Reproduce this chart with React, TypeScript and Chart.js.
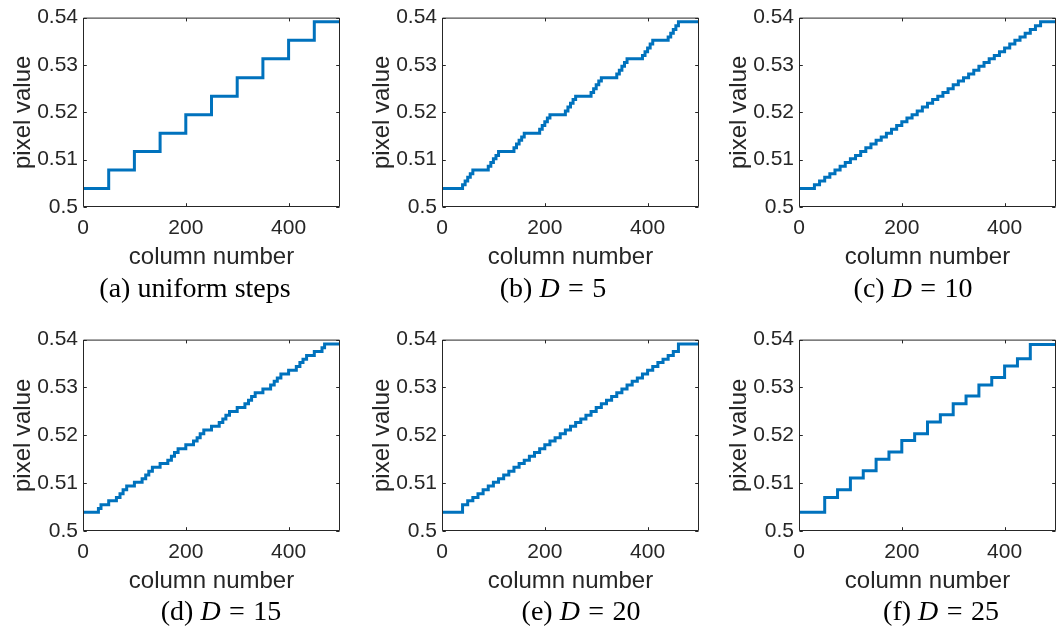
import React, { useEffect, useRef } from "react";
import { Chart, registerables } from "chart.js";

Chart.register(...registerables);

// ---------- axes ----------
const X_MIN = 0;
const X_MAX = 500;
const Y_MIN = 0.5;
const Y_MAX = 0.54;
const X_TICKS = [0, 200, 400];
const X_TICK_LABELS = ["0", "200", "400"];
const Y_TICKS = [0.5, 0.51, 0.52, 0.53, 0.54];
const Y_TICK_LABELS = ["0.5", "0.51", "0.52", "0.53", "0.54"];
const X_TITLE = "column number";
const Y_TITLE = "pixel value";

// ---------- data ----------
// (a) uniform steps: column where each level starts, and the level
const A_COLS = [0, 50, 100, 150, 200, 250, 300, 350, 400, 450, 500];
const A_VALS = [0.5039, 0.5078, 0.5117, 0.5156, 0.5195, 0.5234, 0.5273, 0.5313, 0.5352, 0.5391, 0.5391];

// fine sub-levels used by the dithered curves (b)–(e)
const FINE_LEVELS = [
  0.5039, 0.5047, 0.5055, 0.5063, 0.507, 0.5078, 0.5086, 0.5094, 0.5102, 0.5109,
  0.5117, 0.5125, 0.5133, 0.5141, 0.5148, 0.5156, 0.5164, 0.5172, 0.518, 0.5188,
  0.5195, 0.5203, 0.5211, 0.5219, 0.5227, 0.5234, 0.5242, 0.525, 0.5258, 0.5266,
  0.5273, 0.5281, 0.5289, 0.5297, 0.5305, 0.5313, 0.532, 0.5328, 0.5336, 0.5344,
  0.5352, 0.5359, 0.5367, 0.5375, 0.5383, 0.5391,
];

// columns where the curve jumps to the next fine level
const B_JUMPS = [
  40, 45, 50, 55, 60, 90, 95, 100, 105, 110, 140, 145, 150, 155, 160,
  190, 195, 200, 205, 210, 240, 245, 250, 255, 260, 290, 295, 300, 305, 310,
  340, 345, 350, 355, 360, 390, 395, 400, 405, 410, 440, 445, 450, 455, 460,
];
const C_JUMPS = [
  30, 40, 50, 60, 70, 80, 90, 100, 110, 120, 130, 140, 150, 160, 170,
  180, 190, 200, 210, 220, 230, 240, 250, 260, 270, 280, 290, 300, 310, 320,
  330, 340, 350, 360, 370, 380, 390, 400, 410, 420, 430, 440, 450, 460, 470,
];
const D_JUMPS = [
  30, 35, 50, 65, 72, 78, 85, 100, 115, 122, 128, 135, 150, 165, 172,
  178, 185, 200, 215, 222, 228, 235, 250, 265, 272, 278, 285, 300, 315, 322,
  328, 335, 350, 365, 372, 378, 385, 400, 415, 422, 428, 435, 450, 465, 470,
];
const E_JUMPS = [
  40, 40, 50, 60, 70, 80, 90, 100, 110, 120, 130, 140, 150, 160, 170,
  180, 190, 200, 210, 220, 230, 240, 250, 260, 270, 280, 290, 300, 310, 320,
  330, 340, 350, 360, 370, 380, 390, 400, 410, 420, 430, 440, 450, 460, 460,
];

// (f) D = 25
const F_COLS = [0, 50, 75, 100, 125, 150, 175, 200, 225, 250, 275, 300, 325, 350, 375, 400, 425, 450, 500];
const F_VALS = [
  0.5039, 0.507, 0.5086, 0.5111, 0.5126, 0.515, 0.5165, 0.5189, 0.5203, 0.5228,
  0.5243, 0.5266, 0.5282, 0.5305, 0.5321, 0.5345, 0.536, 0.539, 0.539,
];

type Pt = { x: number; y: number };

function fromCols(cols: number[], vals: number[]): Pt[] {
  return cols.map((c, i) => ({ x: c, y: vals[i] }));
}
function fromJumps(jumps: number[], levels: number[]): Pt[] {
  const pts: Pt[] = [{ x: X_MIN, y: levels[0] }];
  jumps.forEach((j, i) => pts.push({ x: j, y: levels[i + 1] }));
  pts.push({ x: X_MAX, y: levels[levels.length - 1] });
  return pts;
}

// ---------- layout ----------
const PLOT_LEFT = [83, 442, 799];
const PLOT_TOP = [13, 335];
const PLOT_W = 257;
const PLOT_H = [194, 196];
const Y_AXIS_W = 83;
const X_AXIS_H = 70;
const CAPTION_X = [[195, 553, 913], [221, 581, 941]];
const CAPTION_Y = [288, 611];

const AXIS_COLOR = "#262626";
const LINE_COLOR = "#0072BD";

const boxPlugin = {
  id: "matlabBox",
  afterDatasetsDraw(chart: any) {
    const { ctx, chartArea: a, scales } = chart;
    const L = a.left + 0.5;
    const R = a.right - 0.5;
    const T = a.top + 0.5;
    const B = a.bottom - 0.5;
    const tl = 3.3;
    ctx.save();
    ctx.strokeStyle = AXIS_COLOR;
    ctx.lineWidth = 1;
    ctx.beginPath();
    ctx.rect(L, T, R - L, B - T);
    ctx.stroke();
    ctx.beginPath();
    scales.x.ticks.forEach((t: any) => {
      const px = Math.round(scales.x.getPixelForValue(t.value)) + 0.5;
      ctx.moveTo(px, B);
      ctx.lineTo(px, B - tl);
      ctx.moveTo(px, T);
      ctx.lineTo(px, T + tl);
    });
    scales.y.ticks.forEach((t: any) => {
      const py = Math.round(scales.y.getPixelForValue(t.value)) + 0.5;
      ctx.moveTo(L, py);
      ctx.lineTo(L + tl, py);
      ctx.moveTo(R, py);
      ctx.lineTo(R - tl, py);
    });
    ctx.stroke();
    ctx.restore();
  },
};

function Panel({ row, col, data }: { row: number; col: number; data: Pt[] }) {
  const ref = useRef<HTMLCanvasElement>(null);
  const left = PLOT_LEFT[col] - Y_AXIS_W;
  const top = PLOT_TOP[row] - 13;
  const width = col < 2 ? Y_AXIS_W + PLOT_W + 6 : 1056 - left;
  const height = 13 + PLOT_H[row] + X_AXIS_H;
  const rightPad = width - Y_AXIS_W - PLOT_W;

  useEffect(() => {
    if (!ref.current) return;
    const chart = new Chart(ref.current, {
      type: "line",
      data: {
        datasets: [
          {
            data: data as any,
            borderColor: LINE_COLOR,
            borderWidth: 3,
            pointRadius: 0,
            stepped: "before",
            fill: false,
            tension: 0,
          },
        ],
      },
      options: {
        animation: false,
        responsive: false,
        devicePixelRatio: 1,
        layout: { padding: { left: 0, top: 13, right: rightPad, bottom: 0 } },
        plugins: { legend: { display: false }, tooltip: { enabled: false } },
        scales: {
          x: {
            type: "linear",
            min: X_MIN,
            max: X_MAX,
            grid: { display: false, drawTicks: false },
            border: { display: false },
            afterBuildTicks: (s: any) => {
              s.ticks = X_TICKS.map((v) => ({ value: v }));
            },
            afterFit: (s: any) => {
              s.height = X_AXIS_H;
            },
            ticks: {
              padding: 9,
              color: AXIS_COLOR,
              font: { family: "'Liberation Sans', Arial, sans-serif", size: 21 },
              maxRotation: 0,
              autoSkip: false,
              callback: (_v: any, i: number) => X_TICK_LABELS[i],
            },
            title: {
              display: true,
              text: X_TITLE,
              color: AXIS_COLOR,
              font: { family: "'Liberation Sans', Arial, sans-serif", size: 24 },
              padding: { top: 0, bottom: 5 },
            },
          },
          y: {
            type: "linear",
            min: Y_MIN,
            max: Y_MAX,
            grid: { display: false, drawTicks: false },
            border: { display: false },
            afterBuildTicks: (s: any) => {
              s.ticks = Y_TICKS.map((v) => ({ value: v }));
            },
            afterFit: (s: any) => {
              s.width = Y_AXIS_W;
            },
            ticks: {
              padding: 5,
              color: AXIS_COLOR,
              font: { family: "'Liberation Sans', Arial, sans-serif", size: 21 },
              autoSkip: false,
              callback: (_v: any, i: number) => Y_TICK_LABELS[i],
            },
            title: {
              display: true,
              text: Y_TITLE,
              color: AXIS_COLOR,
              font: { family: "'Liberation Sans', Arial, sans-serif", size: 24 },
              padding: { top: 9, bottom: 0 },
            },
          },
        },
      },
      plugins: [boxPlugin],
    });
    return () => chart.destroy();
  }, []);

  return (
    <canvas
      ref={ref}
      width={width}
      height={height}
      style={{ position: "absolute", left, top, width, height }}
    />
  );
}

const captionStyle: React.CSSProperties = {
  position: "absolute",
  transform: "translate(-50%, -50%)",
  whiteSpace: "nowrap",
  fontFamily: "'Liberation Serif', 'Times New Roman', serif",
  fontSize: 28,
  lineHeight: 1,
  color: "#000",
};

function Caption({ row, col, children }: { row: number; col: number; children: React.ReactNode }) {
  return (
    <div style={{ ...captionStyle, left: CAPTION_X[row][col], top: CAPTION_Y[row] }}>{children}</div>
  );
}

function MathD({ n }: { n: string }) {
  return (
    <>
      <i>D</i>
      <span style={{ margin: "0 0.3em" }}>=</span>
      {n}
    </>
  );
}

export default function App() {
  const panels = [
    { row: 0, col: 0, data: fromCols(A_COLS, A_VALS) },
    { row: 0, col: 1, data: fromJumps(B_JUMPS, FINE_LEVELS) },
    { row: 0, col: 2, data: fromJumps(C_JUMPS, FINE_LEVELS) },
    { row: 1, col: 0, data: fromJumps(D_JUMPS, FINE_LEVELS) },
    { row: 1, col: 1, data: fromJumps(E_JUMPS, FINE_LEVELS) },
    { row: 1, col: 2, data: fromCols(F_COLS, F_VALS) },
  ];
  return (
    <div
      style={{
        position: "absolute",
        left: 0,
        top: 0,
        width: 1056,
        height: 634,
        overflow: "hidden",
        background: "#fff",
      }}
    >
      {panels.map((p, i) => (
        <Panel key={i} row={p.row} col={p.col} data={p.data} />
      ))}
      <Caption row={0} col={0}>(a) uniform steps</Caption>
      <Caption row={0} col={1}>
        (b) <MathD n="5" />
      </Caption>
      <Caption row={0} col={2}>
        (c) <MathD n="10" />
      </Caption>
      <Caption row={1} col={0}>
        (d) <MathD n="15" />
      </Caption>
      <Caption row={1} col={1}>
        (e) <MathD n="20" />
      </Caption>
      <Caption row={1} col={2}>
        (f) <MathD n="25" />
      </Caption>
    </div>
  );
}
